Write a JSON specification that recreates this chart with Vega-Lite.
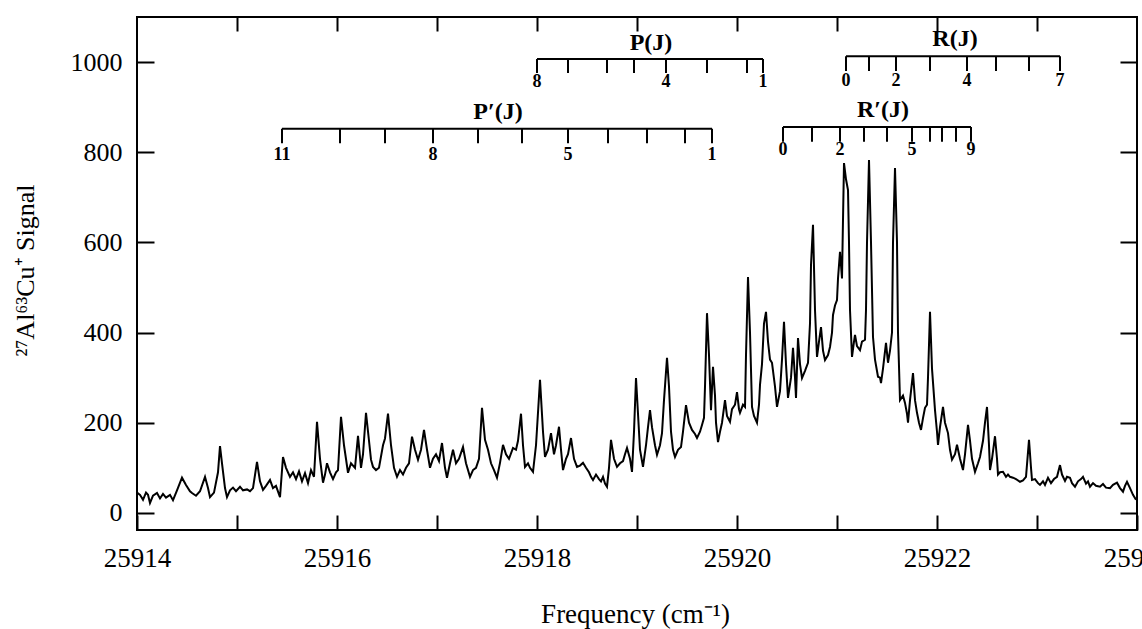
{
"$schema": "https://vega.github.io/schema/vega-lite/v6.json",
"width": 1000, "height": 513,
"autosize": "none",
"padding": {"left": 137, "top": 17, "right": 5, "bottom": 99},
"background": "white",
"config": {"view": {"stroke": "black", "strokeWidth": 2}, "font": "Liberation Serif"},
"datasets": {
"spec": [
{"f":25914.00,"s":45},{"f":25914.03,"s":40},{"f":25914.06,"s":29},{"f":25914.09,"s":45},{"f":25914.11,"s":40},{"f":25914.13,"s":22},{"f":25914.16,"s":38},{"f":25914.20,"s":44},{"f":25914.23,"s":32},{"f":25914.26,"s":42},{"f":25914.29,"s":34},{"f":25914.33,"s":40},{"f":25914.36,"s":28},{"f":25914.40,"s":50},{"f":25914.45,"s":78},{"f":25914.49,"s":62},{"f":25914.53,"s":48},{"f":25914.55,"s":44},{"f":25914.59,"s":38},{"f":25914.63,"s":48},{"f":25914.68,"s":80},{"f":25914.71,"s":55},{"f":25914.73,"s":35},{"f":25914.77,"s":45},{"f":25914.81,"s":90},{"f":25914.83,"s":148},{"f":25914.85,"s":110},{"f":25914.88,"s":55},{"f":25914.90,"s":35},{"f":25914.93,"s":50},{"f":25914.96,"s":56},{"f":25914.99,"s":48},
{"f":25915.03,"s":58},{"f":25915.06,"s":50},{"f":25915.10,"s":52},{"f":25915.13,"s":48},{"f":25915.16,"s":55},{"f":25915.20,"s":113},{"f":25915.23,"s":70},{"f":25915.26,"s":51},{"f":25915.29,"s":60},{"f":25915.33,"s":73},{"f":25915.36,"s":55},{"f":25915.39,"s":60},{"f":25915.43,"s":35},{"f":25915.46,"s":124},{"f":25915.49,"s":100},{"f":25915.53,"s":80},{"f":25915.56,"s":90},{"f":25915.59,"s":75},{"f":25915.62,"s":92},{"f":25915.65,"s":70},{"f":25915.68,"s":88},{"f":25915.71,"s":66},{"f":25915.74,"s":95},{"f":25915.77,"s":80},{"f":25915.80,"s":202},{"f":25915.83,"s":120},{"f":25915.86,"s":67},{"f":25915.88,"s":85},{"f":25915.90,"s":110},{"f":25915.93,"s":90},{"f":25915.96,"s":75},{"f":25915.99,"s":90},
{"f":25916.01,"s":95},{"f":25916.04,"s":213},{"f":25916.07,"s":150},{"f":25916.11,"s":89},{"f":25916.14,"s":110},{"f":25916.18,"s":100},{"f":25916.21,"s":171},{"f":25916.24,"s":100},{"f":25916.26,"s":130},{"f":25916.29,"s":222},{"f":25916.32,"s":160},{"f":25916.34,"s":118},{"f":25916.36,"s":102},{"f":25916.39,"s":95},{"f":25916.42,"s":100},{"f":25916.46,"s":150},{"f":25916.48,"s":165},{"f":25916.51,"s":220},{"f":25916.54,"s":150},{"f":25916.57,"s":100},{"f":25916.60,"s":80},{"f":25916.63,"s":95},{"f":25916.66,"s":85},{"f":25916.69,"s":100},{"f":25916.72,"s":110},{"f":25916.75,"s":169},{"f":25916.78,"s":140},{"f":25916.81,"s":118},{"f":25916.84,"s":140},{"f":25916.87,"s":184},{"f":25916.90,"s":140},{"f":25916.93,"s":100},{"f":25916.96,"s":120},{"f":25916.99,"s":130},
{"f":25917.02,"s":115},{"f":25917.05,"s":155},{"f":25917.08,"s":100},{"f":25917.10,"s":78},{"f":25917.13,"s":110},{"f":25917.16,"s":140},{"f":25917.19,"s":110},{"f":25917.22,"s":120},{"f":25917.26,"s":146},{"f":25917.29,"s":110},{"f":25917.33,"s":80},{"f":25917.36,"s":95},{"f":25917.39,"s":100},{"f":25917.42,"s":120},{"f":25917.45,"s":233},{"f":25917.48,"s":162},{"f":25917.51,"s":140},{"f":25917.54,"s":110},{"f":25917.57,"s":95},{"f":25917.60,"s":78},{"f":25917.63,"s":111},{"f":25917.66,"s":151},{"f":25917.69,"s":130},{"f":25917.72,"s":120},{"f":25917.76,"s":144},{"f":25917.79,"s":140},{"f":25917.81,"s":160},{"f":25917.84,"s":220},{"f":25917.86,"s":150},{"f":25917.88,"s":102},{"f":25917.91,"s":110},{"f":25917.93,"s":100},{"f":25917.96,"s":91},{"f":25917.99,"s":150},
{"f":25918.03,"s":295},{"f":25918.06,"s":180},{"f":25918.08,"s":124},{"f":25918.11,"s":140},{"f":25918.14,"s":177},{"f":25918.17,"s":130},{"f":25918.19,"s":150},{"f":25918.22,"s":191},{"f":25918.24,"s":140},{"f":25918.26,"s":95},{"f":25918.29,"s":120},{"f":25918.31,"s":130},{"f":25918.34,"s":166},{"f":25918.37,"s":120},{"f":25918.40,"s":102},{"f":25918.43,"s":105},{"f":25918.46,"s":111},{"f":25918.49,"s":100},{"f":25918.52,"s":90},{"f":25918.54,"s":80},{"f":25918.56,"s":73},{"f":25918.59,"s":85},{"f":25918.62,"s":75},{"f":25918.64,"s":70},{"f":25918.66,"s":80},{"f":25918.68,"s":65},{"f":25918.70,"s":58},{"f":25918.72,"s":100},{"f":25918.74,"s":162},{"f":25918.77,"s":120},{"f":25918.80,"s":102},{"f":25918.83,"s":110},{"f":25918.86,"s":115},{"f":25918.88,"s":130},{"f":25918.90,"s":144},{"f":25918.93,"s":120},{"f":25918.95,"s":91},{"f":25918.97,"s":180},{"f":25918.99,"s":299},
{"f":25919.01,"s":220},{"f":25919.03,"s":140},{"f":25919.06,"s":102},{"f":25919.09,"s":150},{"f":25919.11,"s":190},{"f":25919.13,"s":228},{"f":25919.15,"s":190},{"f":25919.18,"s":150},{"f":25919.20,"s":129},{"f":25919.23,"s":150},{"f":25919.25,"s":177},{"f":25919.27,"s":250},{"f":25919.30,"s":344},{"f":25919.32,"s":280},{"f":25919.34,"s":180},{"f":25919.36,"s":140},{"f":25919.38,"s":124},{"f":25919.41,"s":140},{"f":25919.44,"s":146},{"f":25919.46,"s":180},{"f":25919.49,"s":239},{"f":25919.52,"s":200},{"f":25919.55,"s":184},{"f":25919.58,"s":175},{"f":25919.60,"s":166},{"f":25919.63,"s":180},{"f":25919.65,"s":195},{"f":25919.67,"s":211},{"f":25919.68,"s":280},{"f":25919.70,"s":443},{"f":25919.72,"s":350},{"f":25919.74,"s":228},{"f":25919.76,"s":324},{"f":25919.78,"s":260},{"f":25919.79,"s":200},{"f":25919.81,"s":157},{"f":25919.83,"s":180},{"f":25919.85,"s":200},{"f":25919.88,"s":250},{"f":25919.90,"s":215},{"f":25919.93,"s":202},{"f":25919.95,"s":230},{"f":25919.98,"s":240},
{"f":25920.00,"s":268},{"f":25920.02,"s":230},{"f":25920.03,"s":222},{"f":25920.06,"s":240},{"f":25920.08,"s":235},{"f":25920.09,"s":350},{"f":25920.11,"s":523},{"f":25920.13,"s":400},{"f":25920.15,"s":235},{"f":25920.17,"s":215},{"f":25920.20,"s":200},{"f":25920.22,"s":240},{"f":25920.23,"s":284},{"f":25920.25,"s":330},{"f":25920.27,"s":420},{"f":25920.29,"s":446},{"f":25920.31,"s":380},{"f":25920.33,"s":340},{"f":25920.35,"s":333},{"f":25920.38,"s":280},{"f":25920.40,"s":235},{"f":25920.43,"s":270},{"f":25920.45,"s":340},{"f":25920.47,"s":424},{"f":25920.49,"s":330},{"f":25920.51,"s":255},{"f":25920.54,"s":300},{"f":25920.56,"s":366},{"f":25920.58,"s":300},{"f":25920.59,"s":255},{"f":25920.61,"s":388},{"f":25920.63,"s":330},{"f":25920.65,"s":299},{"f":25920.68,"s":315},{"f":25920.71,"s":333},{"f":25920.73,"s":420},{"f":25920.74,"s":550},{"f":25920.76,"s":639},{"f":25920.78,"s":450},{"f":25920.80,"s":346},{"f":25920.82,"s":380},{"f":25920.84,"s":412},{"f":25920.86,"s":360},{"f":25920.88,"s":339},{"f":25920.91,"s":350},{"f":25920.93,"s":368},{"f":25920.95,"s":400},{"f":25920.96,"s":439},{"f":25920.98,"s":460},
{"f":25921.00,"s":472},{"f":25921.01,"s":520},{"f":25921.03,"s":579},{"f":25921.05,"s":520},{"f":25921.06,"s":650},{"f":25921.07,"s":776},{"f":25921.09,"s":740},{"f":25921.11,"s":716},{"f":25921.12,"s":600},{"f":25921.13,"s":450},{"f":25921.15,"s":346},{"f":25921.17,"s":380},{"f":25921.18,"s":395},{"f":25921.20,"s":370},{"f":25921.23,"s":361},{"f":25921.25,"s":380},{"f":25921.28,"s":384},{"f":25921.29,"s":450},{"f":25921.30,"s":600},{"f":25921.32,"s":783},{"f":25921.34,"s":600},{"f":25921.36,"s":390},{"f":25921.38,"s":340},{"f":25921.41,"s":302},{"f":25921.43,"s":300},{"f":25921.44,"s":288},{"f":25921.46,"s":320},{"f":25921.49,"s":377},{"f":25921.51,"s":333},{"f":25921.53,"s":360},{"f":25921.55,"s":400},{"f":25921.56,"s":600},{"f":25921.58,"s":765},{"f":25921.60,"s":600},{"f":25921.61,"s":400},{"f":25921.63,"s":250},{"f":25921.66,"s":260},{"f":25921.68,"s":244},{"f":25921.70,"s":220},{"f":25921.71,"s":200},{"f":25921.73,"s":250},{"f":25921.76,"s":310},{"f":25921.78,"s":250},{"f":25921.80,"s":222},{"f":25921.82,"s":200},{"f":25921.84,"s":184},{"f":25921.86,"s":210},{"f":25921.88,"s":233},{"f":25921.90,"s":240},{"f":25921.91,"s":300},{"f":25921.93,"s":446},{"f":25921.95,"s":320},{"f":25921.98,"s":228},
{"f":25922.00,"s":180},{"f":25922.01,"s":151},{"f":25922.03,"s":190},{"f":25922.06,"s":235},{"f":25922.08,"s":200},{"f":25922.11,"s":177},{"f":25922.13,"s":140},{"f":25922.15,"s":118},{"f":25922.18,"s":130},{"f":25922.20,"s":151},{"f":25922.23,"s":120},{"f":25922.26,"s":95},{"f":25922.28,"s":130},{"f":25922.31,"s":195},{"f":25922.33,"s":160},{"f":25922.35,"s":120},{"f":25922.38,"s":91},{"f":25922.41,"s":110},{"f":25922.43,"s":124},{"f":25922.46,"s":160},{"f":25922.48,"s":200},{"f":25922.50,"s":235},{"f":25922.52,"s":150},{"f":25922.53,"s":95},{"f":25922.55,"s":120},{"f":25922.58,"s":170},{"f":25922.60,"s":120},{"f":25922.61,"s":85},{"f":25922.63,"s":90},{"f":25922.66,"s":91},{"f":25922.69,"s":80},{"f":25922.71,"s":85},{"f":25922.73,"s":80},{"f":25922.76,"s":78},{"f":25922.79,"s":75},{"f":25922.83,"s":69},{"f":25922.86,"s":72},{"f":25922.89,"s":80},{"f":25922.92,"s":162},{"f":25922.94,"s":100},{"f":25922.95,"s":73},{"f":25922.98,"s":75},
{"f":25923.01,"s":66},{"f":25923.03,"s":62},{"f":25923.06,"s":70},{"f":25923.08,"s":62},{"f":25923.11,"s":78},{"f":25923.14,"s":66},{"f":25923.17,"s":75},{"f":25923.20,"s":80},{"f":25923.23,"s":106},{"f":25923.25,"s":85},{"f":25923.28,"s":71},{"f":25923.30,"s":80},{"f":25923.33,"s":78},{"f":25923.35,"s":66},{"f":25923.38,"s":58},{"f":25923.41,"s":70},{"f":25923.44,"s":75},{"f":25923.46,"s":80},{"f":25923.49,"s":65},{"f":25923.51,"s":70},{"f":25923.53,"s":58},{"f":25923.56,"s":66},{"f":25923.59,"s":60},{"f":25923.63,"s":58},{"f":25923.66,"s":64},{"f":25923.69,"s":56},{"f":25923.73,"s":55},{"f":25923.76,"s":62},{"f":25923.80,"s":67},{"f":25923.83,"s":55},{"f":25923.86,"s":47},{"f":25923.88,"s":60},{"f":25923.90,"s":69},{"f":25923.93,"s":55},{"f":25923.96,"s":40},{"f":25923.99,"s":29}
],
"lines": [
{"lad":"P","f1":25918.00,"f2":25920.26,"ly":1007},
{"lad":"R","f1":25921.09,"f2":25923.23,"ly":1013},
{"lad":"P'","f1":25915.45,"f2":25919.75,"ly":852},
{"lad":"R'","f1":25920.46,"f2":25922.34,"ly":856}
],
"ticks": [
{"f":25918.00,"t":1007,"b":976,"ly":956,"lab":"8"},{"f":25918.31,"t":1007,"b":976,"ly":956,"lab":""},{"f":25918.70,"t":1007,"b":976,"ly":956,"lab":""},{"f":25918.97,"t":1007,"b":976,"ly":956,"lab":""},{"f":25919.29,"t":1007,"b":976,"ly":956,"lab":"4"},{"f":25919.70,"t":1007,"b":976,"ly":956,"lab":""},{"f":25920.10,"t":1007,"b":976,"ly":956,"lab":""},{"f":25920.26,"t":1007,"b":976,"ly":956,"lab":"1"},
{"f":25921.09,"t":1013,"b":980,"ly":958,"lab":"0"},{"f":25921.32,"t":1013,"b":980,"ly":958,"lab":""},{"f":25921.59,"t":1013,"b":980,"ly":958,"lab":"2"},{"f":25921.93,"t":1013,"b":980,"ly":958,"lab":""},{"f":25922.30,"t":1013,"b":980,"ly":958,"lab":"4"},{"f":25922.59,"t":1013,"b":980,"ly":958,"lab":""},{"f":25922.92,"t":1013,"b":980,"ly":958,"lab":""},{"f":25923.23,"t":1013,"b":980,"ly":958,"lab":"7"},
{"f":25915.45,"t":852,"b":820,"ly":794,"lab":"11"},{"f":25916.03,"t":852,"b":820,"ly":794,"lab":""},{"f":25916.48,"t":852,"b":820,"ly":794,"lab":""},{"f":25916.96,"t":852,"b":820,"ly":794,"lab":"8"},{"f":25917.41,"t":852,"b":820,"ly":794,"lab":""},{"f":25917.85,"t":852,"b":820,"ly":794,"lab":""},{"f":25918.31,"t":852,"b":820,"ly":794,"lab":"5"},{"f":25918.71,"t":852,"b":820,"ly":794,"lab":""},{"f":25919.10,"t":852,"b":820,"ly":794,"lab":""},{"f":25919.48,"t":852,"b":820,"ly":794,"lab":""},{"f":25919.75,"t":852,"b":820,"ly":794,"lab":"1"},
{"f":25920.46,"t":856,"b":823,"ly":805,"lab":"0"},{"f":25920.75,"t":856,"b":823,"ly":805,"lab":""},{"f":25921.03,"t":856,"b":823,"ly":805,"lab":"2"},{"f":25921.27,"t":856,"b":823,"ly":805,"lab":""},{"f":25921.50,"t":856,"b":823,"ly":805,"lab":""},{"f":25921.75,"t":856,"b":823,"ly":805,"lab":"5"},{"f":25921.93,"t":856,"b":823,"ly":805,"lab":""},{"f":25922.05,"t":856,"b":823,"ly":805,"lab":""},{"f":25922.19,"t":856,"b":823,"ly":805,"lab":""},{"f":25922.34,"t":856,"b":823,"ly":805,"lab":"9"}
],
"titles": [
{"f":25919.14,"ly":1042,"name":"P(J)"},
{"f":25922.18,"ly":1051,"name":"R(J)"},
{"f":25917.61,"ly":889,"name":"P′(J)"},
{"f":25921.46,"ly":894,"name":"R′(J)"}
]
},
"layer": [
{
"data": {"name": "spec"},
"mark": {"type": "line", "color": "black", "strokeWidth": 2, "clip": true},
"encoding": {
"x": {"field": "f", "type": "quantitative", "scale": {"domain": [25914, 25924], "nice": false, "zero": false},
"axis": {"orient": "bottom", "values": [25914,25915,25916,25917,25918,25919,25920,25921,25922,25923,25924], "format": "d", "labelExpr": "datum.value % 2 == 0 ? datum.label : ''", "tickSize": -15, "tickWidth": 2, "tickColor": "black", "labelPadding": 30, "labelFontSize": 27, "labelColor": "black", "labelFont": "Liberation Serif", "labelFlush": false, "labelOverlap": false, "domain": false, "grid": false,
"title": "Frequency (cm⁻¹)", "titleFontSize": 27, "titleFontWeight": "normal", "titleFont": "Liberation Serif", "titleColor": "black", "titleX": 498, "titleY": 92, "titleAlign": "center", "titleBaseline": "alphabetic", "titleAnchor": null}},
"y": {"field": "s", "type": "quantitative", "scale": {"domain": [-38, 1100], "nice": false, "zero": false},
"axis": {"orient": "left", "values": [0,200,400,600,800,1000], "format": "d", "tickSize": -17, "tickWidth": 2, "tickColor": "black", "labelPadding": 32, "labelFontSize": 26, "labelColor": "black", "labelFont": "Liberation Serif", "domain": false, "grid": false,
"title": "²⁷Al⁶³Cu⁺ Signal", "titleFontSize": 26, "titleFontWeight": "normal", "titleFont": "Liberation Serif", "titleColor": "black", "titleX": -112, "titleY": 253, "titleAngle": -90, "titleAlign": "center", "titleBaseline": "middle"}}
}
},
{
"data": {"name": "lines"},
"mark": {"type": "rule", "color": "black", "strokeWidth": 2},
"encoding": {
"x": {"field": "f1", "type": "quantitative", "scale": {"domain": [25914, 25924], "nice": false, "zero": false},
"axis": {"orient": "top", "values": [25915,25916,25917,25918,25919,25920,25921,25922,25923], "labels": false, "tickSize": -14, "tickWidth": 2, "tickColor": "black", "domain": false, "grid": false, "title": null}},
"x2": {"field": "f2"},
"y": {"field": "ly", "type": "quantitative", "scale": {"domain": [-38, 1100], "nice": false, "zero": false},
"axis": {"orient": "right", "values": [0,200,400,600,800,1000], "labels": false, "tickSize": -17, "tickWidth": 2, "tickColor": "black", "domain": false, "grid": false, "title": null}}
}
},
{
"data": {"name": "ticks"},
"mark": {"type": "rule", "color": "black", "strokeWidth": 2},
"encoding": {
"x": {"field": "f", "type": "quantitative", "scale": {"domain": [25914, 25924], "nice": false, "zero": false}, "axis": null},
"y": {"field": "t", "type": "quantitative", "scale": {"domain": [-38, 1100], "nice": false, "zero": false}, "axis": null},
"y2": {"field": "b"}
}
},
{
"data": {"name": "ticks"},
"transform": [{"filter": "datum.lab != ''"}],
"mark": {"type": "text", "color": "black", "font": "Liberation Serif", "fontSize": 18, "fontWeight": "bold", "align": "center", "baseline": "middle"},
"encoding": {
"x": {"field": "f", "type": "quantitative", "scale": {"domain": [25914, 25924], "nice": false, "zero": false}, "axis": null},
"y": {"field": "ly", "type": "quantitative", "scale": {"domain": [-38, 1100], "nice": false, "zero": false}, "axis": null},
"text": {"field": "lab"}
}
},
{
"data": {"name": "titles"},
"mark": {"type": "text", "color": "black", "font": "Liberation Serif", "fontSize": 24, "fontWeight": "bold", "align": "center", "baseline": "middle"},
"encoding": {
"x": {"field": "f", "type": "quantitative", "scale": {"domain": [25914, 25924], "nice": false, "zero": false}, "axis": null},
"y": {"field": "ly", "type": "quantitative", "scale": {"domain": [-38, 1100], "nice": false, "zero": false}, "axis": null},
"text": {"field": "name"}
}
}
],
"resolve": {"axis": {"x": "independent", "y": "independent"}}
}
